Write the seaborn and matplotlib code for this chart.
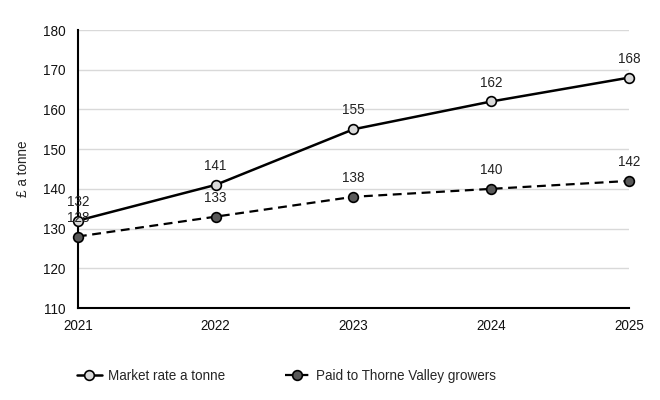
import matplotlib
matplotlib.use("Agg")
import matplotlib.pyplot as plt
import seaborn as sns
import pandas as pd

years = [2021, 2022, 2023, 2024, 2025]
market = [132, 141, 155, 162, 168]
paid = [128, 133, 138, 140, 142]
series_names = ["Market rate a tonne", "Paid to Thorne Valley growers"]
y_label = "£ a tonne"

sns.set_theme(style="white")
plt.rcParams['font.family'] = ['Liberation Sans', 'DejaVu Sans']

FS = 9.75

fig = plt.figure(figsize=(6.6, 4.0), dpi=100)
ax = fig.add_axes([0.118, 0.23, 0.835, 0.695])

df = pd.DataFrame({"year": years * 2,
                   "value": market + paid,
                   "series": [series_names[0]] * 5 + [series_names[1]] * 5})

sns.lineplot(data=df[df.series == series_names[0]], x="year", y="value", ax=ax,
             color="black", lw=1.8, marker="o", markersize=7,
             markerfacecolor="#d9d9d9", markeredgecolor="black", markeredgewidth=1.2,
             label=series_names[0], zorder=3, clip_on=False)
sns.lineplot(data=df[df.series == series_names[1]], x="year", y="value", ax=ax,
             color="black", lw=1.6, linestyle=(0, (4, 2.5)), marker="o", markersize=7,
             markerfacecolor="#595959", markeredgecolor="black", markeredgewidth=1.2,
             label=series_names[1], zorder=3, clip_on=False)

for x, v in zip(years, market):
    ax.annotate(str(v), (x, v), xytext=(0, 8.5), textcoords="offset points",
                ha="center", va="bottom", fontsize=FS, color="#222222")
for x, v in zip(years, paid):
    ax.annotate(str(v), (x, v), xytext=(0, 8.5), textcoords="offset points",
                ha="center", va="bottom", fontsize=FS, color="#222222")

ax.set_xlim(2021, 2025)
ax.set_ylim(110, 180)
ax.set_yticks(range(110, 181, 10))
ax.set_xticks(years)
ax.set_xticklabels([str(y) for y in years])
ax.set_xlabel("")
ax.set_ylabel(y_label, fontsize=FS, labelpad=9)
ax.tick_params(axis="both", labelsize=FS, length=0, colors="#111111")
ax.tick_params(axis="x", pad=8)
ax.tick_params(axis="y", pad=9)
ax.grid(axis="y", color="#d9d9d9", lw=1)
ax.grid(axis="x", visible=False)
for s in ["top", "right"]:
    ax.spines[s].set_visible(False)
for s in ["left", "bottom"]:
    ax.spines[s].set_color("black")
    ax.spines[s].set_linewidth(1.5)

handles, labels = ax.get_legend_handles_labels()
ax.get_legend().remove()
fig.legend(handles, labels, loc="lower left", bbox_to_anchor=(0.098, 0.012),
           ncol=2, frameon=False, fontsize=FS, columnspacing=4.4,
           handlelength=1.85, handletextpad=0.45)

fig.savefig("out.png", dpi=100)
